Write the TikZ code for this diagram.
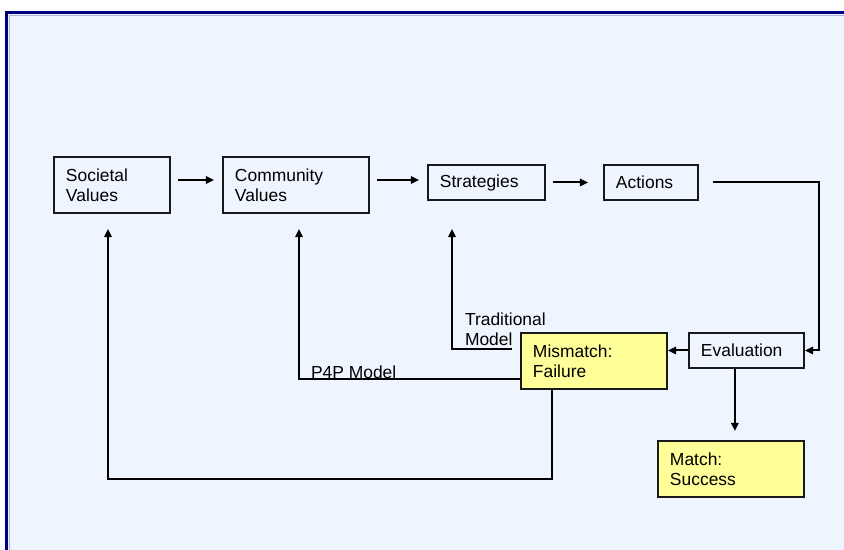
\documentclass[tikz,border=0pt]{standalone}
\usepackage{fontspec}
\setmainfont{Liberation Sans}
\usetikzlibrary{arrows.meta}
\definecolor{panel}{HTML}{EEF5FE}
\definecolor{frame}{HTML}{000080}
\definecolor{note}{HTML}{FFFF99}
\tikzstyle{stage}=[draw=black!90,
	       line width=0.05cm,
	       inner xsep=0.3cm,
	       inner ysep=0cm,
	       align=left,
	       font=\fontsize{12.4}{14.2}\selectfont]
\tikzstyle{outcome}=[stage, fill=note]
\tikzstyle{flow}=[line width=0.05cm, -{Triangle[length=0.2cm,width=0.18cm]}]
\tikzstyle{tag}=[align=left, inner sep=0.05cm, font=\fontsize{12.4}{14.2}\selectfont]
\begin{document}
\begin{tikzpicture}[x=0.025cm, y=-0.025cm]

% light blue panel with its dark frame, cut off at right and bottom
\useasboundingbox (0,0) rectangle (844,550);
\fill[panel] (6.5,12.5) rectangle (844,550);
\draw[frame!30, line width=0.025cm] (9.5,550) -- (9.5,15.5) -- (844,15.5);
\draw[frame, line width=0.075cm] (6.5,550) -- (6.5,12.5) -- (844,12.5);

% top row of stages
\node[stage, text width=2.3cm, minimum height=1.4cm] (soc) at (112,185) {Societal\\Values};
\node[stage, text width=3.05cm, minimum height=1.4cm] (com) at (296,185) {Community\\Values};
\node[stage, text width=2.325cm, minimum height=0.875cm] (str) at (486.5,182.5) {Strategies};
\node[stage, text width=1.75cm, minimum height=0.875cm] (act) at (651,182.5) {Actions};

% evaluation and its two outcomes
\node[stage, text width=2.275cm, minimum height=0.875cm] (eva) at (746.5,350.5) {Evaluation};
\node[outcome, text width=3.05cm, minimum height=1.4cm] (mis) at (594,361) {Mismatch:\\Failure};
\node[outcome, text width=3.05cm, minimum height=1.4cm] (match) at (731,469) {Match:\\Success};

% corner points of the loops
\coordinate (bend) at (819,182.5);
\coordinate (trad) at (452,349);
\coordinate (p4p) at (299,379);
\coordinate (low) at (108,479);

% forward chain
\draw[flow, shorten <=0.175cm, shorten >=0.2cm] ([yshift=0.125cm]soc.east) -- ([yshift=0.125cm]soc.east -| com.west);
\draw[flow, shorten <=0.175cm, shorten >=0.2cm] ([yshift=0.125cm]com.east) -- ([yshift=0.125cm]com.east -| str.west);
\draw[flow, shorten <=0.175cm, shorten >=0.375cm] (str.east) -- (act.west);
\draw[flow, shorten <=0.35cm] (act.east) -- (bend) |- (eva.east);
\draw[flow] (eva.west) -- (eva.west -| mis.east);
\draw[flow, shorten >=0.225cm] ([xshift=-0.29cm]eva.south) -- ([xshift=-0.29cm]eva.south |- match.north);

% feedback loops from failure
\draw[flow, shorten <=0.2cm, shorten >=0.7cm] (trad -| mis.west) -- (trad)
  node[tag, anchor=south west, xshift=0.25cm] {Traditional\\Model} -- (trad |- str.south);
\draw[flow, shorten >=0.375cm] (p4p -| mis.west) -- (p4p)
  node[tag, anchor=south west, xshift=0.225cm, yshift=-0.075cm] {P4P Model} -- (p4p |- com.south);
\draw[flow, shorten >=0.375cm] ([xshift=-1.05cm]mis.south) |- (low) -- (low |- soc.south);

\end{tikzpicture}
\end{document}
